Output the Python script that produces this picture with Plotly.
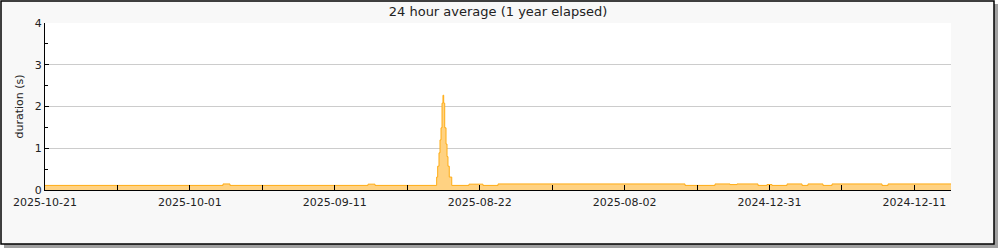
import plotly.graph_objects as go

# Day index (0 = 2025-10-21, increasing to the right) where the 24h average changes
change_idx = [0, 24.57, 25.53, 44.58, 45.55,
              54.06, 54.20, 54.38, 54.52, 54.66, 54.80, 54.93, 55.03, 55.17, 55.35, 55.49, 55.62, 55.80,
              56.14, 58.52, 60.45, 62.53, 88.34, 92.48, 94.55, 95.51, 98.41, 99.65, 100.34,
              102.42, 104.49, 105.31, 107.38, 108.63, 115.53, 116.36, 125.05]
durations = [0.11, 0.145, 0.11, 0.14, 0.11,
             0.31, 0.57, 0.89, 1.2, 1.49, 2.08, 2.27, 2.08, 1.49, 1.1, 0.8, 0.57, 0.31,
             0.11, 0.14, 0.11, 0.145, 0.11, 0.145, 0.13, 0.145, 0.11, 0.13, 0.11,
             0.145, 0.11, 0.145, 0.11, 0.145, 0.11, 0.145, 0.145]

tick_idx = [0, 10, 20, 30, 40, 50, 60, 70, 80, 90, 100, 110, 120]
tick_labels = ["2025-10-21", "", "2025-10-01", "", "2025-09-11", "", "2025-08-22", "",
               "2025-08-02", "", "2024-12-31", "", "2024-12-11"]

W, H = 1000, 250
L, R, T, B = 45, 951, 23, 190  # plot area in pixels


def px(x):
    return (x - L) / (R - L)


def py(y):
    return (B - y) / (B - T)


fig = go.Figure()
fig.add_trace(go.Scatter(
    x=change_idx, y=durations, mode="lines", line_shape="hv",
    line=dict(color="#ffac14", width=1), fill="tozeroy", fillcolor="#ffd282",
    hoverinfo="skip", showlegend=False))

fig.update_layout(
    width=W, height=H, autosize=False,
    margin=dict(l=L, r=W - R, t=T, b=H - B, pad=0),
    paper_bgcolor="white", plot_bgcolor="white",
    font=dict(family="DejaVu Sans", size=11, color="#222"),
    title=dict(text="24 hour average (1 year elapsed)", x=0.5, xref="paper",
               xanchor="center", y=1 - 11 / H, yanchor="middle",
               font=dict(size=13, color="#222")),
    shapes=[
        dict(type="rect", xref="paper", yref="paper", layer="below",
             x0=px(4), x1=px(998), y0=py(4), y1=py(248),
             fillcolor="#a0a0a0", line=dict(width=0)),
        dict(type="rect", xref="paper", yref="paper", layer="below",
             x0=px(1), x1=px(994), y0=py(1), y1=py(244),
             fillcolor="#f8f8f8", line=dict(color="black", width=1.5)),
        dict(type="rect", xref="paper", yref="paper", layer="below",
             x0=0, x1=1, y0=0, y1=1, fillcolor="white", line=dict(width=0)),
    ],
)
fig.update_xaxes(range=[0, 125.05], tickvals=tick_idx, ticktext=tick_labels,
                 ticks="inside", ticklen=5, tickcolor="black", showgrid=False,
                 showline=True, linecolor="black", linewidth=1, zeroline=False,
                 ticklabelstandoff=2,
                 tickfont=dict(size=11, color="#222"), fixedrange=True)
fig.update_yaxes(range=[0, 4], dtick=1, ticks="inside", ticklen=4, tickcolor="black",
                 showgrid=True, gridcolor="#cccccc", gridwidth=1,
                 showline=True, linecolor="black", linewidth=1, zeroline=False,
                 minor=dict(dtick=0.5, ticks="inside", ticklen=3, tickcolor="black", showgrid=False),
                 tickfont=dict(size=11, color="#222"),
                 title=dict(text="duration (s)", standoff=8, font=dict(size=11, color="#222")),
                 fixedrange=True)

fig.write_html("out.html")
